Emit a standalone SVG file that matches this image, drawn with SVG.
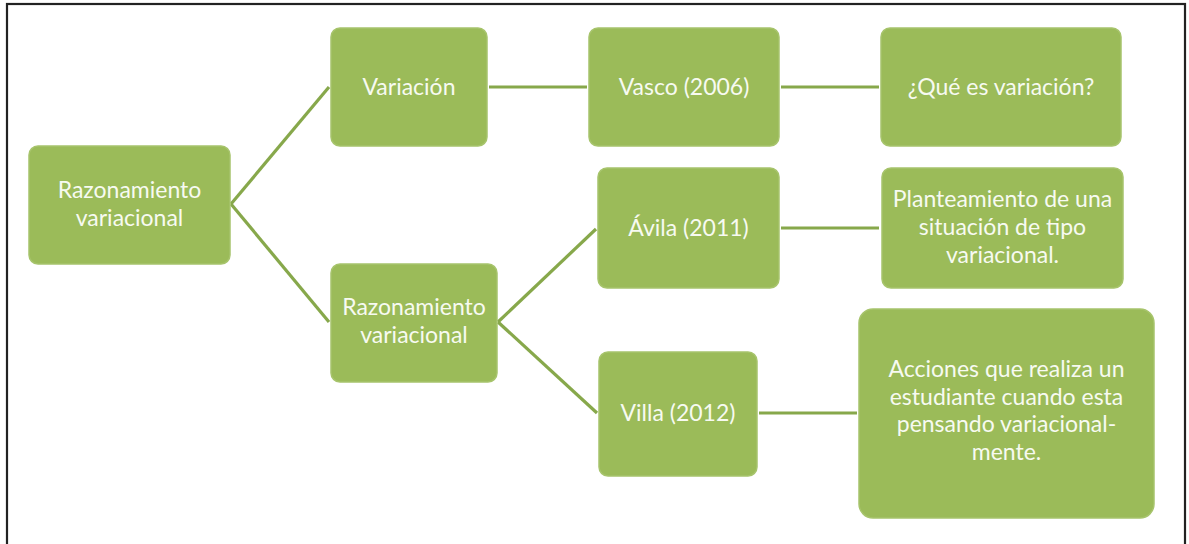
<svg xmlns="http://www.w3.org/2000/svg" width="1189" height="544" viewBox="0 0 1189 544">
<style>
.box{fill:#9bbb59;stroke:#a7c46c;stroke-width:1.5}
.lbl{font-family:Lato,"Open Sans",sans-serif;font-size:23px;fill:#f7faf1;text-anchor:middle}
.con{stroke:#87a84b;stroke-width:3.2;fill:none;stroke-linecap:butt}
</style>
<rect x="0" y="0" width="1189" height="544" fill="#ffffff"/>
<rect x="7" y="4" width="1178" height="560" fill="none" stroke="#222222" stroke-width="2.2"/>
<g id="connectors">
<line class="con" x1="231" y1="204" x2="329" y2="87"/>
<line class="con" x1="231" y1="204" x2="329" y2="322"/>
<line class="con" x1="489" y1="87" x2="587" y2="87"/>
<line class="con" x1="781" y1="87" x2="879" y2="87"/>
<line class="con" x1="498" y1="322" x2="596" y2="229"/>
<line class="con" x1="498" y1="322" x2="597" y2="413"/>
<line class="con" x1="781" y1="228" x2="879" y2="228"/>
<line class="con" x1="759" y1="413" x2="857" y2="413"/>
</g>
<g id="n-root">
<rect class="box" x="29" y="146" width="201" height="118" rx="9"/>
<text class="lbl" x="129.5" y="198">Razonamiento</text>
<text class="lbl" x="129.5" y="226">variacional</text>
</g>
<g id="n-variacion">
<rect class="box" x="331" y="28" width="156" height="118" rx="9"/>
<text class="lbl" x="409" y="95">Variación</text>
</g>
<g id="n-vasco">
<rect class="box" x="589" y="28" width="190" height="118" rx="9"/>
<text class="lbl" x="684" y="95">Vasco (2006)</text>
</g>
<g id="n-que">
<rect class="box" x="881" y="28" width="240" height="118" rx="9"/>
<text class="lbl" x="1001" y="95">¿Qué es variación?</text>
</g>
<g id="n-razvar">
<rect class="box" x="331" y="264" width="166" height="118" rx="9"/>
<text class="lbl" x="414" y="315">Razonamiento</text>
<text class="lbl" x="414" y="343">variacional</text>
</g>
<g id="n-avila">
<rect class="box" x="598" y="168" width="181" height="120" rx="9"/>
<text class="lbl" x="688.5" y="236">Ávila (2011)</text>
</g>
<g id="n-plant">
<rect class="box" x="882" y="168" width="241" height="120" rx="9"/>
<text class="lbl" x="1002.5" y="207">Planteamiento de una</text>
<text class="lbl" x="1002.5" y="235">situación de tipo</text>
<text class="lbl" x="1002.5" y="263">variacional.</text>
</g>
<g id="n-villa">
<rect class="box" x="599" y="352" width="158" height="124" rx="9"/>
<text class="lbl" x="678" y="421">Villa (2012)</text>
</g>
<g id="n-acciones">
<rect class="box" x="859" y="309" width="295" height="209" rx="14"/>
<text class="lbl" x="1006.5" y="377">Acciones que realiza un</text>
<text class="lbl" x="1006.5" y="404.7">estudiante cuando esta</text>
<text class="lbl" x="1006.5" y="432.4">pensando variacional-</text>
<text class="lbl" x="1006.5" y="460.1">mente.</text>
</g>
</svg>
